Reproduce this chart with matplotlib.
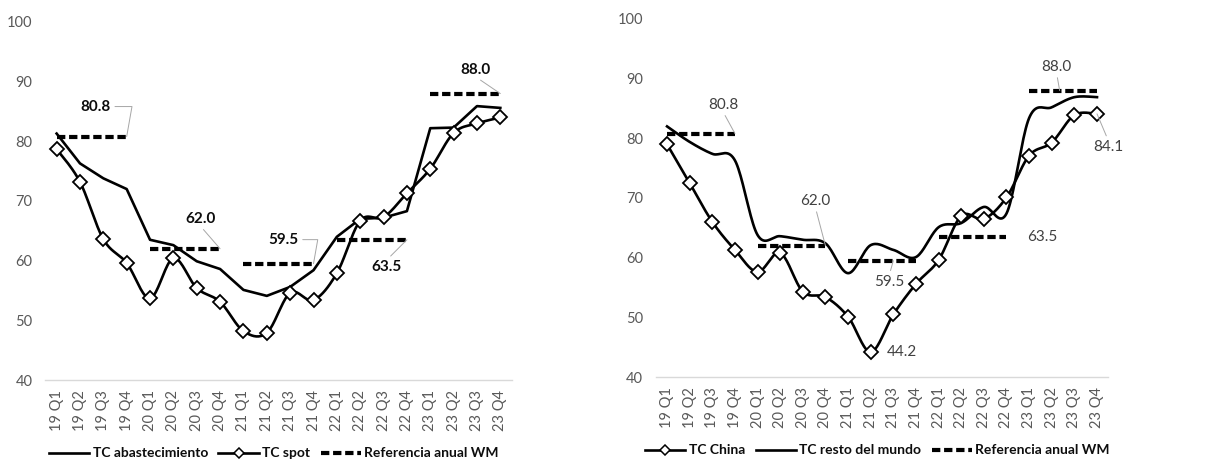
import numpy as np
import matplotlib
matplotlib.use("Agg")
import matplotlib.pyplot as plt
from matplotlib.lines import Line2D

plt.rcParams['font.family'] = ['Lato', 'DejaVu Sans']

quarters = ["19 Q1", "19 Q2", "19 Q3", "19 Q4", "20 Q1", "20 Q2", "20 Q3", "20 Q4",
            "21 Q1", "21 Q2", "21 Q3", "21 Q4", "22 Q1", "22 Q2", "22 Q3", "22 Q4",
            "23 Q1", "23 Q2", "23 Q3", "23 Q4"]

# Left panel
tc_abastecimiento = [81.3, 76.3, 73.8, 72.0, 63.5, 62.6, 59.9, 58.6, 55.1, 54.1,
                     55.6, 58.4, 64.0, 67.0, 67.2, 68.3, 82.2, 82.3, 85.9, 85.6]
tc_spot = [78.7, 73.2, 63.6, 59.6, 53.7, 60.4, 55.4, 53.1, 48.2, 47.9,
           54.6, 53.4, 57.9, 66.7, 67.3, 71.3, 75.4, 81.4, 83.0, 84.0]

# Right panel
tc_china = [79.0, 72.5, 66.0, 61.3, 57.6, 60.8, 54.3, 53.4, 50.1, 44.2,
            50.5, 55.6, 59.6, 67.0, 66.5, 70.1, 77.1, 79.3, 83.9, 84.1]
tc_resto = [82.0, 79.4, 77.4, 76.3, 63.8, 63.6, 63.0, 62.4, 57.4, 62.1,
            61.3, 60.1, 65.1, 65.8, 68.5, 67.4, 83.4, 85.2, 86.9, 86.9]

# Annual WM benchmark per year (applies to the four quarters of each year)
years = ["2019", "2020", "2021", "2022", "2023"]
referencia_wm = [80.8, 62.0, 59.5, 63.5, 88.0]

LBL_GRAY = "#595959"
TICK_FS = 10.5


def smooth(y, n=20):
    """Catmull-Rom style Bezier smoothing through every point."""
    x = np.arange(len(y), dtype=float)
    P = np.column_stack([x, np.asarray(y, float)])
    out = []
    for i in range(len(P) - 1):
        p0 = P[i - 1] if i > 0 else P[i]
        p1 = P[i]
        p2 = P[i + 1]
        p3 = P[i + 2] if i + 2 < len(P) else P[i + 1]
        c1 = p1 + (p2 - p0) / 6.0
        c2 = p2 - (p3 - p1) / 6.0
        t = np.linspace(0, 1, n, endpoint=(i == len(P) - 2))[:, None]
        seg = ((1 - t) ** 3) * p1 + 3 * ((1 - t) ** 2) * t * c1 + 3 * (1 - t) * t ** 2 * c2 + t ** 3 * p2
        out.append(seg)
    pts = np.vstack(out)
    return pts[:, 0], pts[:, 1]


def reference_segments(ax):
    for k, val in enumerate(referencia_wm):
        xs = [4 * k, 4 * k + 3]
        ax.plot(xs, [val, val], color="black", lw=3.0,
                linestyle=(0, (2.0, 0.9)), solid_capstyle="butt",
                dash_capstyle="butt", zorder=2)


def style_axes(ax, ypad):
    ax.set_xlim(-0.5, len(quarters) - 0.5)
    ax.set_ylim(40, 100)
    ax.set_yticks(range(40, 101, 10))
    ax.set_xticks(range(len(quarters)))
    ax.set_xticklabels(quarters, rotation=90, fontsize=TICK_FS, color=LBL_GRAY)
    ax.tick_params(axis="y", labelsize=TICK_FS, labelcolor=LBL_GRAY, length=0, pad=ypad)
    ax.tick_params(axis="x", length=0, pad=7)
    for s in ["top", "right", "left"]:
        ax.spines[s].set_visible(False)
    ax.spines["bottom"].set_color("#d9d9d9")
    ax.spines["bottom"].set_linewidth(1.0)


def label(ax, text, xy, dxdy, bold, color, relpos=(0.5, 0.5), conn="arc3", leader=True):
    ap = None
    if leader:
        ap = dict(arrowstyle="-", color="#a6a6a6", lw=0.7, shrinkA=1, shrinkB=0,
                  relpos=relpos, connectionstyle=conn)
    ax.annotate(text, xy=xy, xytext=dxdy, textcoords="offset pixels",
                ha="center", va="center", fontsize=11,
                fontweight="bold" if bold else "normal", color=color,
                arrowprops=ap, zorder=5)


fig = plt.figure(figsize=(12.15, 4.61), dpi=100)

x = np.arange(len(quarters))
mk = dict(marker="D", markersize=7, markerfacecolor="white",
          markeredgecolor="black", markeredgewidth=1.3)
leg_kw = dict(loc="center", ncol=3, frameon=False,
              prop=dict(family="Lato", weight="bold", size=10),
              handlelength=2.9, handletextpad=0.25, columnspacing=0.75,
              labelcolor="#0d0d0d")

# ---------------- left panel ----------------
axL = fig.add_axes([0.0370, 0.1757, 0.3844, 0.7766])
axL.plot(x, tc_abastecimiento, color="black", lw=1.9, zorder=3)
sx, sy = smooth(tc_spot)
axL.plot(sx, sy, color="black", lw=1.9, zorder=3)
axL.plot(x, tc_spot, linestyle="none", zorder=4, **mk)
reference_segments(axL)
style_axes(axL, ypad=9)

lab_bold = "#0d0d0d"
label(axL, f"{referencia_wm[0]:.1f}", (3, referencia_wm[0]), (-31, 30), True, lab_bold,
      relpos=(1, 0.5), conn="angle,angleA=0,angleB=80,rad=0")
label(axL, f"{referencia_wm[1]:.1f}", (7, referencia_wm[1]), (-20, 30), True, lab_bold,
      relpos=(0.5, 0))
label(axL, f"{referencia_wm[2]:.1f}", (11, referencia_wm[2]), (-30, 24), True, lab_bold,
      relpos=(1, 0.5), conn="angle,angleA=0,angleB=80,rad=0")
label(axL, f"{referencia_wm[3]:.1f}", (15, referencia_wm[3]), (-20, -27), True, lab_bold,
      relpos=(0.5, 1))
label(axL, f"{referencia_wm[4]:.1f}", (19, referencia_wm[4]), (-25, 24), True, lab_bold,
      relpos=(0.5, 0))

handlesL = [
    Line2D([], [], color="black", lw=1.9),
    Line2D([], [], color="black", lw=1.9, marker="D", markersize=5,
           markerfacecolor="white", markeredgecolor="black", markeredgewidth=1.1),
    Line2D([], [], color="black", lw=3.0, linestyle=(0, (2.0, 0.9))),
]
axL.legend(handlesL, ["TC abastecimiento", "TC spot", "Referencia anual WM"],
           bbox_to_anchor=(0.49, -0.205), **leg_kw)

# ---------------- right panel ----------------
axR = fig.add_axes([0.5397, 0.1822, 0.3725, 0.7766])
rx, ry = smooth(tc_resto)
axR.plot(rx, ry, color="black", lw=1.9, zorder=3)
cx, cy = smooth(tc_china)
axR.plot(cx, cy, color="black", lw=1.9, zorder=3)
axR.plot(x, tc_china, linestyle="none", zorder=4, **mk)
reference_segments(axR)
style_axes(axR, ypad=9)

lab_gray = "#404040"
label(axR, f"{referencia_wm[0]:.1f}", (3, referencia_wm[0]), (-12, 29), False, lab_gray,
      relpos=(0.5, 0))
label(axR, f"{referencia_wm[1]:.1f}", (7, referencia_wm[1]), (-10, 45), False, lab_gray,
      relpos=(0.5, 0))
label(axR, f"{referencia_wm[2]:.1f}", (10, referencia_wm[2]), (-4, -21), False, lab_gray,
      relpos=(0.5, 1))
label(axR, f"{referencia_wm[3]:.1f}", (15, referencia_wm[3]), (36, 0), False, lab_gray,
      leader=False)
label(axR, f"{referencia_wm[4]:.1f}", (17.35, referencia_wm[4]), (-3, 24), False, lab_gray,
      relpos=(0.5, 0))
label(axR, f"{tc_china[19]:.1f}", (19, tc_china[19]), (11, -33), False, lab_gray,
      relpos=(0.5, 1))
label(axR, f"{tc_china[9]:.1f}", (9, tc_china[9]), (31, 0), False, lab_gray,
      leader=False)

handlesR = [
    Line2D([], [], color="black", lw=1.9, marker="D", markersize=5,
           markerfacecolor="white", markeredgecolor="black", markeredgewidth=1.1),
    Line2D([], [], color="black", lw=1.9),
    Line2D([], [], color="black", lw=3.0, linestyle=(0, (2.0, 0.9))),
]
axR.legend(handlesR, ["TC China", "TC resto del mundo", "Referencia anual WM"],
           bbox_to_anchor=(0.49, -0.205), **leg_kw)

fig.savefig("out.png", dpi=100)
